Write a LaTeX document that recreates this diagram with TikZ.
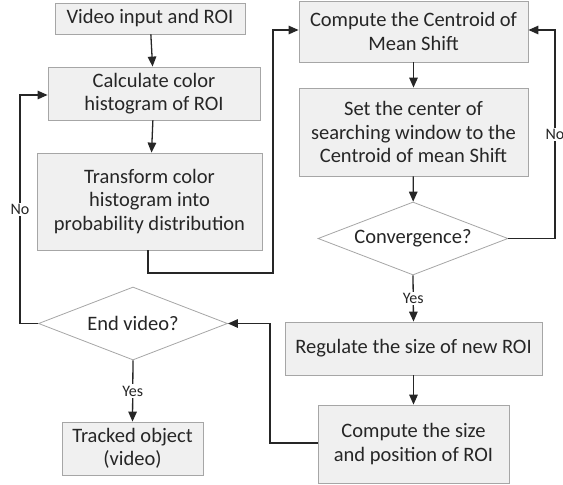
\documentclass[tikz,border=0pt]{standalone}
\usepackage{fontspec}
\setmainfont{Carlito}
\usetikzlibrary{shapes.geometric,arrows.meta}
\definecolor{boxfill}{HTML}{F0F0F0}
\definecolor{boxline}{HTML}{A6A6A6}
\definecolor{lineC}{HTML}{262626}
\tikzset{
  procbox/.style={draw=boxline, fill=boxfill, line width=0.8pt, align=center, inner sep=2pt, font=\fontsize{20.5}{23.5}\selectfont, text=lineC},
  decis/.style={diamond, aspect=2.6, draw=boxline, fill=white, line width=0.8pt, align=center, inner sep=0pt, font=\fontsize{20.5}{23.5}\selectfont, text=lineC},
  conn/.style={draw=lineC, line width=1.3pt, -{Triangle[length=10pt,width=8.5pt]}},
  lbl/.style={fill=white, inner sep=1.5pt, font=\fontsize{16}{18}\selectfont, text=lineC}
}
\begin{document}
\begin{tikzpicture}[x=1pt,y=-1pt]
\useasboundingbox (0,0) rectangle (563,485);
\node[procbox, minimum width=190pt, minimum height=31pt] (v) at (150,18.5) {Video input and ROI};
\node[procbox, minimum width=212pt, minimum height=53pt] (c) at (154,93.5) {Calculate color\\histogram of ROI};
\node[procbox, minimum width=225pt, minimum height=97pt] (t) at (149.5,201.5) {Transform color\\histogram into\\probability distribution};
\node[decis, minimum width=189pt, minimum height=73pt] (e) at (133,323.5) {End video?};
\node[procbox, minimum width=141pt, minimum height=53pt] (o) at (132.5,448.5) {Tracked object\\(video)};
\node[procbox, minimum width=229pt, minimum height=61pt] (m) at (413.5,31.5) {Compute the Centroid of\\Mean Shift};
\node[procbox, minimum width=229pt, minimum height=88pt] (s) at (413.5,132) {Set the center of\\searching window to the\\Centroid of mean Shift};
\node[decis, minimum width=190pt, minimum height=73pt] (cv) at (413,238.5) {Convergence?};
\node[procbox, minimum width=257pt, minimum height=53pt] (r) at (413.5,348.5) {Regulate the size of new ROI};
\node[procbox, minimum width=191pt, minimum height=78pt] (p) at (413.5,444) {Compute the size\\and position of ROI};

\coordinate (a1) at (148,273);
\coordinate (a2) at (273,273);
\coordinate (a3) at (273,30);
\coordinate (b1) at (20,323.5);
\coordinate (b2) at (20,95);
\coordinate (d1) at (555,238.5);
\coordinate (d2) at (555,30);
\coordinate (f1) at (270,443);
\coordinate (f2) at (270,323.5);

\draw[conn] (v) -- (c);
\draw[conn] (c) -- (t);
\draw[conn] (t.south -| a1) -- (a1) -- (a2) -- (a3) -- (a3 -| m.west);
\draw[conn] (m) -- (s);
\draw[conn] (s) -- (cv);
\draw[conn] (cv.east) -- (d1) -- node[lbl, pos=0.5] {No} (d2) -- (d2 -| m.east);
\draw[conn] (cv.south) -- node[lbl, pos=0.5] {Yes} (r.north);
\draw[conn] (r) -- (p);
\draw[conn] (p.west |- f1) -- (f1) -- (f2) -- (e.east);
\draw[conn] (e.west) -- (b1) -- node[lbl, pos=0.5] {No} (b2) -- (b2 -| c.west);
\draw[conn] (e.south) -- node[lbl, pos=0.5] {Yes} (o.north);
\end{tikzpicture}
\end{document}
